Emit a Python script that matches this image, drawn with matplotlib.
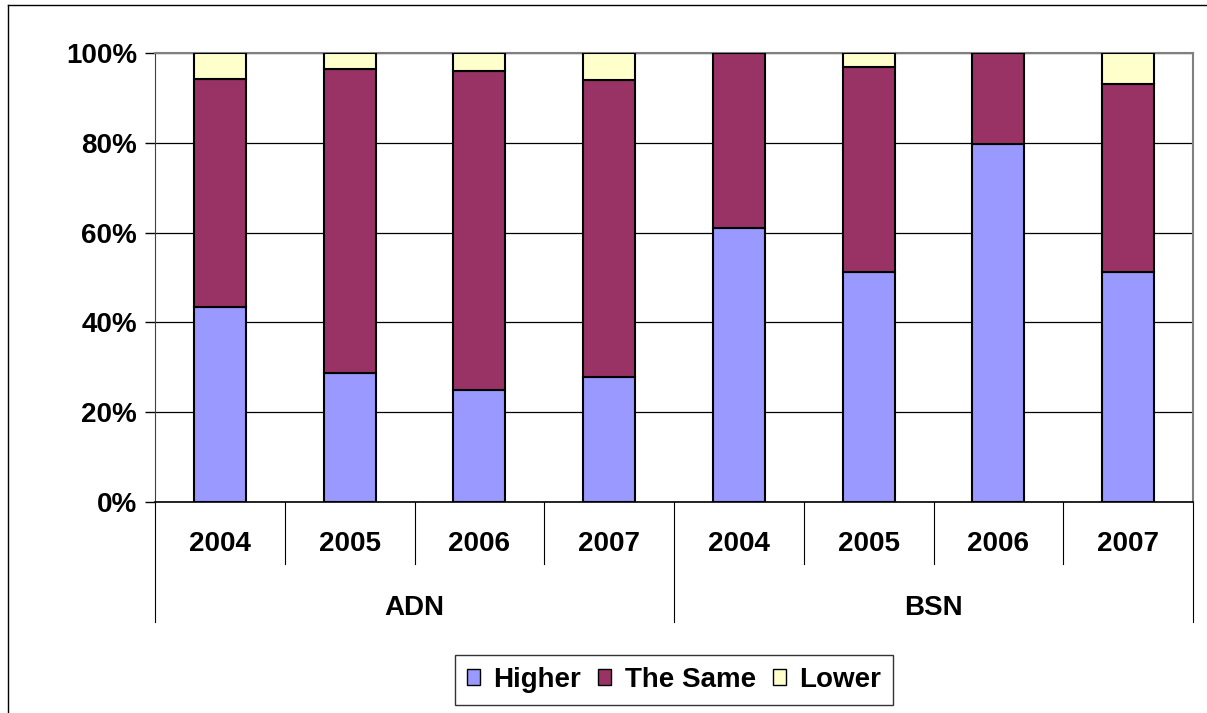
import matplotlib
matplotlib.use("Agg")
import matplotlib.pyplot as plt
from matplotlib.lines import Line2D
from matplotlib.patches import Patch
import numpy as np

plt.rcParams["font.family"] = ["Liberation Sans", "DejaVu Sans"]
plt.rcParams["font.weight"] = "bold"

years = ["2004", "2005", "2006", "2007", "2004", "2005", "2006", "2007"]
groups = ["ADN", "BSN"]
higher = [43.5, 28.8, 24.9, 27.8, 61.1, 51.3, 79.8, 51.3]
same = [50.6, 67.6, 71.1, 66.2, 38.9, 45.6, 20.2, 41.8]
lower = [5.9, 3.6, 4.0, 6.0, 0.0, 3.1, 0.0, 6.9]

series = [("Higher", higher, "#9999FF"),
          ("The Same", same, "#993366"),
          ("Lower", lower, "#FFFFCC")]

W, H = 1207, 713
FS = 20
fig = plt.figure(figsize=(W / 100, H / 100), dpi=100)
ax = fig.add_axes([155 / W, 1 - 502 / H, (1193 - 155) / W, (502 - 53) / H])

x = np.arange(len(years))
bottom = np.zeros(len(years))
for name, vals, color in series:
    vals = np.array(vals) / 100
    ax.bar(x, vals, width=0.4, bottom=bottom, color=color,
           edgecolor="black", linewidth=1.5, zorder=3)
    bottom += vals

ax.set_xlim(-0.5, len(years) - 0.5)
ax.set_ylim(0, 1)
ticks = np.linspace(0, 1, 6)
ax.set_yticks(ticks)
ax.set_yticklabels([f"{int(round(v * 100))}%" for v in ticks],
                   fontsize=FS, fontweight="bold")
ax.tick_params(axis="y", direction="out", length=7, width=1, pad=6)
ax.set_xticks([])
ax.grid(axis="y", color="black", linewidth=0.9, zorder=0)

for side in ("top", "right"):
    ax.spines[side].set_color("#808080")
    ax.spines[side].set_linewidth(1.5)
ax.spines["left"].set_color("#404040")
ax.spines["bottom"].set_color("black")
ax.spines["bottom"].set_linewidth(1.2)

# two-level category axis: years, then network
trans = ax.get_xaxis_transform()
for i, yr in enumerate(years):
    ax.text(i, -0.0935, yr, transform=trans, ha="center", va="center",
            fontsize=FS, fontweight="bold")
for b in np.arange(0.5, len(years) - 1, 1):
    if b == 3.5:
        continue
    ax.add_line(Line2D([b, b], [0, -0.138], transform=trans, color="black",
                       linewidth=0.8, clip_on=False))
for b in (-0.5, 3.5, len(years) - 0.5):
    ax.add_line(Line2D([b, b], [0, -0.267], transform=trans, color="black",
                       linewidth=0.8, clip_on=False))
for g, name in enumerate(groups):
    ax.text(g * 4 + 1.5, -0.236, name, transform=trans, ha="center",
            va="center", fontsize=FS, fontweight="bold")

handles = [Patch(facecolor=c, edgecolor="black", linewidth=1.0, label=n)
           for n, _, c in series]
leg = fig.legend(handles=handles, loc="center", bbox_to_anchor=(674 / W, 1 - 680 / H),
                 ncol=3, frameon=True, fancybox=False,
                 handlelength=0.47, handleheight=0.47, handletextpad=0.5,
                 columnspacing=0.6, borderpad=0.42,
                 prop={"weight": "bold", "size": FS})
leg.get_frame().set_edgecolor("black")
leg.get_frame().set_linewidth(1.0)

# outer chart border
fig.add_artist(Line2D([8 / W, 8 / W], [0, 1 - 5 / H], color="black", linewidth=1.0))
fig.add_artist(Line2D([8 / W, 1], [1 - 5 / H, 1 - 5 / H], color="black", linewidth=1.0))

fig.savefig("out.png", dpi=100)
